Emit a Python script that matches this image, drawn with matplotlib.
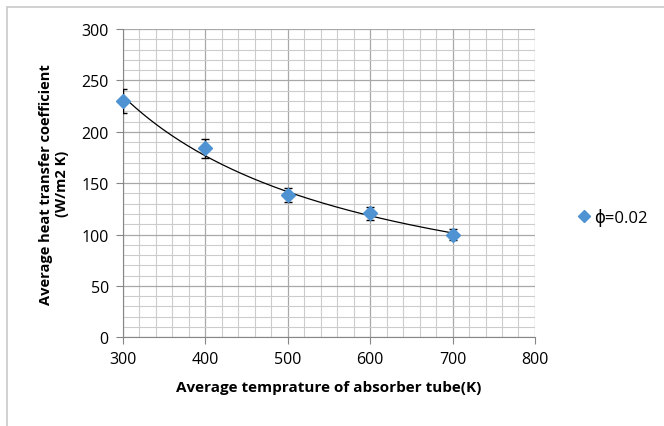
import matplotlib
matplotlib.use('Agg')
import matplotlib.pyplot as plt
from matplotlib.ticker import MultipleLocator
from matplotlib.patches import Rectangle
import numpy as np

# values
temperature = [300, 400, 500, 600, 700]
htc = [230.0, 184.0, 138.5, 120.5, 100.0]
htc_err = [11.5, 9.2, 6.9, 6.0, 5.0]
series_label = 'ϕ=0.02'
x_label = 'Average temprature of absorber tube(K)'
y_label = 'Average heat transfer coefficient\n(W/m2 K)'

plt.rcParams['font.family'] = ['Open Sans', 'DejaVu Sans']

fig = plt.figure(figsize=(6.64, 4.27), dpi=100)
# chart area border (cropped on right/bottom in the original)
fig.patches.append(Rectangle((7 / 664, -0.1), 1.2, 1 - 8 / 427 + 0.1,
                             transform=fig.transFigure, fill=False,
                             edgecolor='#c8c8c8', linewidth=1.2))

ax = fig.add_axes([0.1848, 0.2077, 0.6209, 0.722])

# power trendline fitted on the points
b, ln_a = np.polyfit(np.log(temperature), np.log(htc), 1)
xs = np.linspace(temperature[0], temperature[-1], 200)
ax.plot(xs, np.exp(ln_a) * xs ** b, color='black', linewidth=0.9, zorder=3)

ax.errorbar(temperature, htc, yerr=htc_err, fmt='none', ecolor='black',
            elinewidth=1.0, capsize=3, capthick=1.0, zorder=4)
ax.plot(temperature, htc, linestyle='none', marker='D', markersize=7,
        color='#4F93D2', markeredgecolor='#4F93D2', label=series_label,
        zorder=5, clip_on=False)

ax.set_xlim(300, 800)
ax.set_ylim(0, 300)
ax.xaxis.set_major_locator(MultipleLocator(100))
ax.xaxis.set_minor_locator(MultipleLocator(20))
ax.yaxis.set_major_locator(MultipleLocator(50))
ax.yaxis.set_minor_locator(MultipleLocator(10))

ax.grid(which='major', color='#a8a8a8', linewidth=0.9)
ax.grid(which='minor', color='#cccccc', linewidth=0.8)
ax.set_axisbelow(True)

for side in ['top', 'right']:
    ax.spines[side].set_visible(False)
for side in ['left', 'bottom']:
    ax.spines[side].set_color('#868686')

ax.tick_params(which='major', length=5, color='#868686', labelsize=11.5,
               labelcolor='black', pad=5)
ax.tick_params(which='minor', length=0)

ax.set_xlabel(x_label, fontsize=11, fontweight='bold', labelpad=9)
ax.set_ylabel(y_label, fontsize=10.5, fontweight='bold', labelpad=9)

ax.legend(loc='center left', bbox_to_anchor=(1.07, 0.39), frameon=False,
          fontsize=12, handlelength=0.6, handletextpad=0.3, markerscale=0.85)

fig.savefig('out.png', dpi=100)
